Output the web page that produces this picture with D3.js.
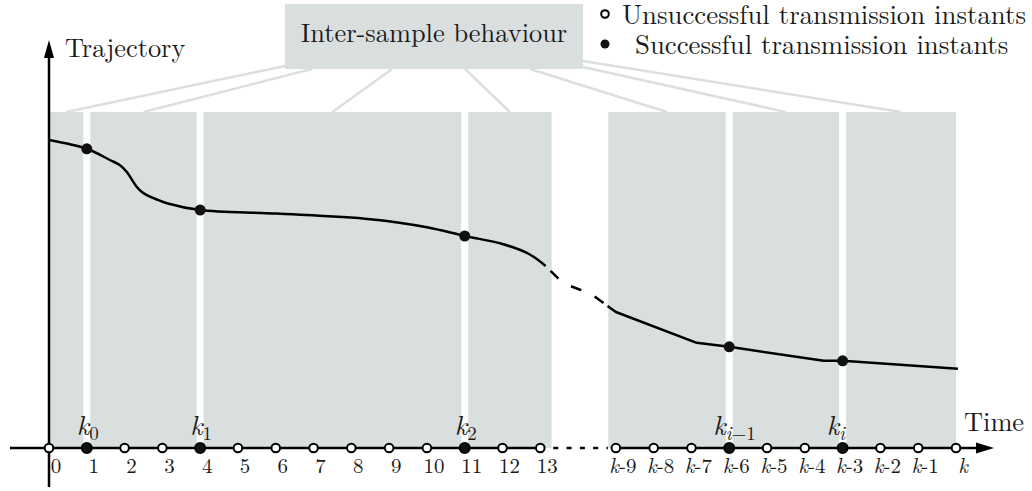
<!DOCTYPE html>
<html>
<head>
<meta charset="utf-8">
<script src="https://cdn.jsdelivr.net/npm/d3@7"></script>
<style>
  body { margin: 0; background: #fff; }
</style>
</head>
<body>
<div id="chart"></div>
<script>
// ---- data ----
// time instants (index along the time axis; 14 is the elided gap)
var tickIndex = [0,1,2,3,4,5,6,7,8,9,10,11,12,13,15,16,17,18,19,20,21,22,23,24];
var tickLabels = ["0","1","2","3","4","5","6","7","8","9","10","11","12","13",
                  "k-9","k-8","k-7","k-6","k-5","k-4","k-3","k-2","k-1","k"];
// successful transmission instants and their labels
var successIndex = [1, 4, 11, 18, 21];
var successSub = ["0", "1", "2", "i-1", "i"];
var successValue = [7.48, 5.95, 5.30, 2.53, 2.18];
// shaded inter-sample spans (before / after the gap)
var spans = [[0, 13.3], [14.8, 24]];
// trajectory, in three pieces
var trajA = [[0,7.70],[1,7.48],[1.61,7.20],[1.88,7.07],[2.06,6.90],[2.2,6.70],[2.33,6.52],[2.46,6.40],
             [2.59,6.32],[2.86,6.21],[3.12,6.12],[4,5.95],[6,5.86],[8.5,5.72],[10,5.52],[11,5.30],
             [12,5.10],[12.7,4.85],[13.14,4.55]];
var trajGap = [[13.14,4.55],[13.6,4.12],[14.07,3.95],[14.33,3.86],[14.78,3.55]];
var trajB = [[14.78,3.55],[15.0,3.40],[17.14,2.63],[18,2.53],[20.5,2.18],[21,2.18],[24.05,1.98]];

var W = 1032, H = 491;
var grey = "#d9dede";
var font = "'Latin Modern Roman', 'Liberation Serif', serif";

var svg = d3.select("#chart").append("svg")
  .attr("width", W).attr("height", H)
  .attr("font-family", font)
  .style("font-family", font);

var x = d3.scaleLinear().domain([0, 24]).range([49, 956]);
var y = d3.scaleLinear().domain([0, 10]).range([448, 48]);
var y0 = y(0), yTop = 112;
var gap = 3.5;

// shaded rectangles split at successful instants
var rects = [];
spans.forEach(function(s) {
  var cuts = successIndex.filter(function(k) { return k > s[0] && k < s[1]; });
  var edges = [x(s[0])];
  cuts.forEach(function(k) { edges.push(x(k) - gap); edges.push(x(k) + gap); });
  edges.push(x(s[1]));
  for (var i = 0; i < edges.length; i += 2) rects.push([edges[i], edges[i + 1]]);
});

svg.selectAll("rect.span")
  .data(rects)
  .enter().append("rect")
  .attr("class", "span")
  .attr("x", function(d) { return d[0]; })
  .attr("y", yTop)
  .attr("width", function(d) { return d[1] - d[0]; })
  .attr("height", y0 - yTop)
  .attr("fill", grey);

// title box + connector lines
var box = { x0: 285, x1: 583, y0: 4, y1: 69 };
var starts = [[285, 66], [312, 69], [392, 69], [465, 69], [530, 69], [583, 67], [583, 61]];
svg.selectAll("line.conn")
  .data(rects)
  .enter().append("line")
  .attr("class", "conn")
  .attr("x1", function(d, i) { return starts[i][0]; })
  .attr("y1", function(d, i) { return starts[i][1]; })
  .attr("x2", function(d) { return (d[0] + d[1]) / 2; })
  .attr("y2", yTop)
  .attr("stroke", "#dcdfe0")
  .attr("stroke-width", 2.5);

svg.append("rect")
  .attr("x", box.x0).attr("y", box.y0)
  .attr("width", box.x1 - box.x0).attr("height", box.y1 - box.y0)
  .attr("fill", grey);

function label(xp, yp, txt, size, anchor) {
  return svg.append("text")
    .attr("x", xp).attr("y", yp)
    .attr("text-anchor", anchor || "start")
    .attr("fill", "#1a1a1a")
    .style("font-size", size + "px")
    .text(txt);
}
label((box.x0 + box.x1) / 2, 42, "Inter-sample behaviour", 26.4, "middle");

// axes
svg.append("line")
  .attr("x1", 49).attr("y1", 487).attr("x2", 49).attr("y2", 52)
  .attr("stroke", "#000").attr("stroke-width", 2.5);
svg.append("path")
  .attr("d", "M49,40 L44,58 L54,58 Z").attr("fill", "#000");

svg.append("line")
  .attr("x1", 10).attr("y1", y0).attr("x2", x(13)).attr("y2", y0)
  .attr("stroke", "#000").attr("stroke-width", 2.5);
svg.append("line")
  .attr("x1", x(13) + 13).attr("y1", y0).attr("x2", x(15) - 8).attr("y2", y0)
  .attr("stroke", "#000").attr("stroke-width", 2.5)
  .attr("stroke-dasharray", "5,8.3");
svg.append("line")
  .attr("x1", x(15)).attr("y1", y0).attr("x2", 980).attr("y2", y0)
  .attr("stroke", "#000").attr("stroke-width", 2.5);
svg.append("path")
  .attr("d", "M994," + y0 + " L976," + (y0 - 5.5) + " L976," + (y0 + 5.5) + " Z")
  .attr("fill", "#000");

label(65, 57, "Trajectory", 26.4);
label(964, 431, "Time", 26.4);

// trajectory
var smooth = d3.line()
  .x(function(d) { return x(d[0]); })
  .y(function(d) { return y(d[1]); })
  .curve(d3.curveCatmullRom.alpha(0.5));
var straight = d3.line()
  .x(function(d) { return x(d[0]); })
  .y(function(d) { return y(d[1]); });

svg.append("path").attr("d", smooth(trajA))
  .attr("fill", "none").attr("stroke", "#000").attr("stroke-width", 2.5);
svg.append("path").attr("d", straight(trajGap))
  .attr("fill", "none").attr("stroke", "#000").attr("stroke-width", 2.5)
  .attr("stroke-dasharray", "0,7,11,8");
svg.append("path").attr("d", straight(trajB))
  .attr("fill", "none").attr("stroke", "#000").attr("stroke-width", 2.5)
  .attr("stroke-linejoin", "round");

svg.selectAll("circle.traj")
  .data(successIndex)
  .enter().append("circle")
  .attr("class", "traj")
  .attr("cx", function(d) { return x(d); })
  .attr("cy", function(d, i) { return y(successValue[i]); })
  .attr("r", 5.5)
  .attr("fill", "#111");

// instants on time axis
svg.selectAll("circle.tick")
  .data(tickIndex)
  .enter().append("circle")
  .attr("class", "tick")
  .attr("cx", function(d) { return x(d); })
  .attr("cy", y0)
  .attr("r", function(d) { return successIndex.indexOf(d) >= 0 ? 5 : 4.3; })
  .attr("fill", function(d) { return successIndex.indexOf(d) >= 0 ? "#111" : "#fff"; })
  .attr("stroke", "#000")
  .attr("stroke-width", 2);

// tick labels
var tl = svg.selectAll("text.tl")
  .data(tickIndex)
  .enter().append("text")
  .attr("class", "tl")
  .attr("x", function(d) { return x(d) + 7; })
  .attr("y", 473)
  .attr("text-anchor", "middle")
  .attr("fill", "#1a1a1a")
  .style("font-size", "21px");
tl.each(function(d, i) {
  var s = tickLabels[i], t = d3.select(this);
  if (s.charAt(0) === "k") {
    t.append("tspan").style("font-style", "italic").text("k");
    if (s.length > 1) t.append("tspan").text(s.slice(1));
  } else {
    t.text(s);
  }
});

// k_j labels above successful instants
svg.selectAll("text.kl")
  .data(successIndex)
  .enter().append("text")
  .attr("class", "kl")
  .attr("x", function(d, i) { return x(d) - (successSub[i].indexOf("i") >= 0 ? 16 : 10); })
  .attr("y", 435)
  .attr("fill", "#1a1a1a")
  .style("font-size", "27px")
  .each(function(d, i) {
    var t = d3.select(this), sub = successSub[i];
    t.append("tspan").style("font-style", "italic").text("k");
    var s = t.append("tspan").attr("dy", 5).style("font-size", "19px");
    if (sub.charAt(0) === "i") {
      s.append("tspan").style("font-style", "italic").text("i");
      if (sub.length > 1) s.append("tspan").text("\u2212" + sub.slice(2));
    } else {
      s.text(sub);
    }
  });

// legend
var legend = [
  { label: "Unsuccessful transmission instants", filled: false },
  { label: "Successful transmission instants", filled: true }
];
var lg = svg.selectAll("g.lg")
  .data(legend)
  .enter().append("g")
  .attr("class", "lg")
  .attr("transform", function(d, i) { return "translate(605," + (14 + i * 30) + ")"; });
lg.append("circle")
  .attr("r", function(d) { return d.filled ? 4.5 : 3.8; })
  .attr("fill", function(d) { return d.filled ? "#111" : "#fff"; })
  .attr("stroke", "#000")
  .attr("stroke-width", function(d) { return d.filled ? 0 : 2; });
lg.append("text")
  .attr("x", function(d) { return d.filled ? 30 : 17; })
  .attr("y", 10)
  .attr("fill", "#1a1a1a")
  .style("font-size", "26.8px")
  .text(function(d) { return d.label; });
</script>
</body>
</html>
